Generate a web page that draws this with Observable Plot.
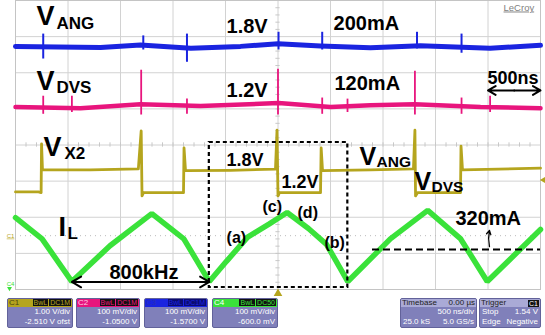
<!DOCTYPE html>
<html><head><meta charset="utf-8">
<script src="https://cdn.jsdelivr.net/npm/d3@7"></script>
<script src="https://cdn.jsdelivr.net/npm/@observablehq/plot@0.6"></script>
<style>
body{margin:0;background:#fff;width:545px;height:335px;overflow:hidden;}
#chart svg{display:block}
.pn{position:absolute;top:1px;height:30px;box-sizing:border-box;background:#8080ba;border:1px solid #62629a;border-radius:2px;color:#fff;font:8px 'Liberation Sans',Arial,sans-serif;overflow:hidden}
.hd{height:8px;display:flex;align-items:center;justify-content:space-between;padding:0 1px;line-height:8px;white-space:nowrap}
.tag{background:#111;padding:0 1px;margin-left:1px;font-size:7px;line-height:7px;display:inline-block}
.ln{height:10px;line-height:10px;display:flex;justify-content:space-between;padding:0 2px;white-space:nowrap}
</style></head><body>
<div id="chart"></div>
<div id="panels" style="position:relative;width:545px;height:38px"></div>
<script>
// ---- channel settings (from the scope panels)
const chNames = ["C1","C2","C3","C4"];
const chColors = ["#b5a51e","#e8157d","#1a24e0","#3ae23a"];
const chScale = [1.0, 0.1, 0.1, 0.1];        // V/div
const chOffset = [-2.51, -1.05, -1.57, -0.6]; // V offset
const chVdiv = ["1.00 V/div","100 mV/div","100 mV/div","100 mV/div"];
const chOfs = ["-2.510 V ofst","-1.0500 V","-1.5700 V","-600.0 mV"];
const chCoupling = ["DC1M","DC1M","DC1M","DC50"];
const timebase = ["Timebase","0.00 µs","500 ns/div","25.0 kS","5.0 GS/s"];
const trigger = ["Trigger","C1","Stop","1.54 V","Edge","Negative"];
const triggerLevel = 1.54;

// ---- C1: V_X2 (time in µs, volts)
const tX2 = [-2.5,-2.281,-2.256,-2.252,-2.243,-1.786,-1.33,-1.303,-1.295,-1.281,-0.90,-0.895,-0.881,-0.452,-0.024,-0.0095,0,0.014,0.405,0.411,0.424,0.881,1.29,1.304,1.31,1.329,1.738,1.743,1.757,2.5];
const vX2 = [1.21,1.21,1.19,2.54,1.82,1.82,1.85,2.90,1.10,1.19,1.19,2.43,1.80,1.81,1.84,2.92,1.10,1.19,1.19,2.43,1.80,1.82,1.85,2.92,1.10,1.19,1.19,2.48,1.82,1.87];
// ---- C2: V_DVS
const tDVS = [-2.5,-1.881,-1.31,-0.738,0.005,0.5,0.88,1.3,1.929,2.5];
const vDVS = [1.155,1.152,1.163,1.158,1.166,1.155,1.160,1.163,1.155,1.152];
const tDVSspk = [-2.236,-1.963,-1.303,-0.867,0,0.421,0.662,1.304,1.748,2.02];
const loDVSspk = [1.135,1.14,1.133,1.135,1.133,1.135,1.14,1.133,1.135,1.14];
const hiDVSspk = [1.185,1.185,1.257,1.177,1.260,1.18,1.177,1.254,1.18,1.185];
// ---- C3: V_ANG
const tANG = [-2.5,-1.69,-1.31,-0.83,-0.357,0,0.405,0.88,1.357,2.02,2.5];
const vANG = [1.843,1.840,1.847,1.838,1.843,1.850,1.844,1.839,1.845,1.838,1.846];
const tANGspk = [-2.236,-1.283,-0.867,0.005,0.421,1.324,1.748];
const loANGspk = [1.808,1.833,1.799,1.833,1.833,1.836,1.824];
const hiANGspk = [1.877,1.872,1.877,1.882,1.882,1.882,1.877];
// ---- C4: I_L
const tIL = [-2.5,-2.247,-1.963,-1.6,-1.202,-0.897,-0.654,-0.491,-0.289,-0.086,0.087,0.29,0.462,0.665,1.07,1.426,1.74,1.993,2.5];
const vIL = [0.399,0.340,0.222,0.321,0.410,0.340,0.222,0.278,0.345,0.381,0.413,0.369,0.325,0.222,0.340,0.419,0.340,0.222,0.366];

// ---- annotations (t in µs, y in divisions)
const labels = [
  {s:"V",t:-2.300,y:3.322,size:27},{s:"ANG",t:-2.110,y:3.211,size:17},
  {s:"1.8V",t:-0.490,y:3.114,size:20},{s:"200mA",t:0.529,y:3.170,size:20},
  {s:"V",t:-2.300,y:1.509,size:27},{s:"DVS",t:-2.110,y:1.426,size:17},
  {s:"1.2V",t:-0.490,y:1.315,size:20},{s:"120mA",t:0.538,y:1.509,size:20},
  {s:"500ns",t:1.995,y:1.702,size:18},
  {s:"V",t:-2.233,y:-0.318,size:27},{s:"X2",t:-2.033,y:-0.388,size:17},
  {s:"1.8V",t:-0.490,y:-0.595,size:18},{s:"1.2V",t:0.033,y:-1.204,size:18},
  {s:"V",t:0.776,y:-0.540,size:25},{s:"ANG",t:0.938,y:-0.609,size:15.5},
  {s:"V",t:1.300,y:-1.232,size:25},{s:"DVS",t:1.462,y:-1.301,size:15.5},
  {s:"I",t:-2.090,y:-2.519,size:27},{s:"L",t:-2.005,y:-2.602,size:17},
  {s:"800kHz",t:-1.605,y:-3.723,size:20},
  {s:"(a)",t:-0.490,y:-2.699,size:16},{s:"(c)",t:-0.148,y:-1.841,size:16},
  {s:"(d)",t:0.186,y:-2.007,size:16},{s:"(b)",t:0.443,y:-2.865,size:16},
  {s:"320mA",t:1.690,y:-2.201,size:20}
];
const dashBox = [{t1:-0.654,t2:0.665,y1:0.069,y2:-3.945}];
const dashLine = [{t1:0.9,t2:2.5,y:-2.893}];
const dblArrows = [{t1:-1.963,t2:-0.654,y:-3.792},{t1:2.0,t2:2.5,y:1.509}];

const div = (ch, v) => (v + chOffset[ch]) / chScale[ch];
const series = (ch, T, V) => T.map((t,i)=>({t, y: div(ch, V[i])}));
const spikes = (ch, T, L, H) => T.map((t,i)=>({t, y1: div(ch,L[i]), y2: div(ch,H[i])}));

const X2 = series(0,tX2,vX2), DVS = series(1,tDVS,vDVS), ANG = series(2,tANG,vANG), IL = series(3,tIL,vIL);
const DVSs = spikes(1,tDVSspk,loDVSspk,hiDVSspk), ANGs = spikes(2,tANGspk,loANGspk,hiANGspk);

const arrowSegs = dblArrows.flatMap(a=>{const m=(a.t1+a.t2)/2; return [{x1:m,x2:a.t1,y:a.y},{x1:m,x2:a.t2,y:a.y}];});
const minorX = d3.range(-2.5, 2.5001, 0.1);
const minorY = d3.range(-4, 4.001, 0.2);

const plot = Plot.plot({
  width: 545, height: 297,
  marginLeft: 15, marginRight: 5, marginTop: 0, marginBottom: 8,
  x: {domain: [-2.5, 2.5], axis: null},
  y: {domain: [-4, 4], axis: null},
  style: {background: "white", overflow: "visible", fontFamily: "'Liberation Sans', Arial, sans-serif"},
  marks: [
    Plot.ruleX(d3.range(-2.5, 2.5001, 0.5), {stroke: "#d2d2d2", strokeWidth: 1}),
    Plot.ruleY(d3.range(-4, 4.001, 1), {stroke: "#d2d2d2", strokeWidth: 1}),
    Plot.ruleX(minorX, {y1: -0.06, y2: 0.06, stroke: "#c8c8c8"}),
    Plot.ruleY(minorY, {x1: -0.02, x2: 0.02, stroke: "#c8c8c8"}),
    Plot.ruleY([div(0, 0)], {stroke: "#bbbbbb", strokeDasharray: "1,4"}),
    Plot.frame({stroke: "#c4c4c4"}),
    Plot.line(ANG, {x: "t", y: "y", stroke: chColors[2], strokeWidth: 5}),
    Plot.ruleX(ANGs, {x: "t", y1: "y1", y2: "y2", stroke: chColors[2], strokeWidth: 2}),
    Plot.line(DVS, {x: "t", y: "y", stroke: chColors[1], strokeWidth: 4.5}),
    Plot.ruleX(DVSs, {x: "t", y1: "y1", y2: "y2", stroke: chColors[1], strokeWidth: 1.8}),
    Plot.line(X2, {x: "t", y: "y", stroke: chColors[0], strokeWidth: 2.8}),
    Plot.line(IL, {x: "t", y: "y", stroke: chColors[3], strokeWidth: 5.5, strokeLinejoin: "miter"}),
    Plot.rect(dashBox, {x1: "t1", x2: "t2", y1: "y1", y2: "y2", fill: "none", stroke: "black", strokeWidth: 2.2, strokeDasharray: "4,3"}),
    Plot.ruleY(dashLine, {x1: "t1", x2: "t2", y: "y", stroke: "black", strokeWidth: 2, strokeDasharray: "7,4"}),
    Plot.arrow(arrowSegs, {x1: "x1", x2: "x2", y1: "y", y2: "y", stroke: "black", strokeWidth: 2, headLength: 8}),
    Plot.arrow([{x: 2.014, y1: -2.81, y2: -2.367}], {x1: "x", x2: "x", y1: "y1", y2: "y2", stroke: "black", strokeWidth: 1.3, headLength: 5, bend: 12}),
    Plot.text(labels, {x: "t", y: "y", text: "s", fontSize: "size", textAnchor: "start", lineAnchor: "bottom", fontWeight: "bold", fill: "black"}),
    Plot.text([{t: 2.148, y: 3.723, s: "LeCroy"}], {x: "t", y: "y", text: "s", fontSize: 9.5, textAnchor: "start", lineAnchor: "bottom", fill: "#808080"}),
    Plot.dot([{t: 2.5, y: div(0, triggerLevel)}], {x: "t", y: "y", symbol: "triangle", rotate: -90, r: 3, fill: chColors[0], dx: 4}),
    Plot.dot([{t: 0, y: -4}], {x: "t", y: "y", symbol: "triangle", r: 3.2, fill: chColors[0], dy: 4}),
    Plot.text([{t: -2.5, y: div(0, 0), s: "C1"}], {x: "t", y: "y", text: "s", dx: -5, fontSize: 6, fill: chColors[0]}),
    Plot.text([{t: -2.5, y: -3.85, s: "C4"}], {x: "t", y: "y", text: "s", dx: -5, fontSize: 6, fill: chColors[3]}),
    Plot.dot([{t: -2.5, y: -3.97}], {x: "t", y: "y", symbol: "triangle", rotate: 180, r: 1.8, fill: chColors[3], dx: -6})
  ]
});
document.getElementById("chart").appendChild(plot);
d3.select(plot).selectAll("text").filter(function(){return this.textContent==="LeCroy"||this.textContent==="C1";}).attr("text-decoration","underline");

// ---- panels
const P = document.getElementById("panels");
const pLeft = [7,76,144,212], pW = [66,64,64,66];
const hdrFg = ["#4a4410","#ffd0e6","#2a30b0","#ffffff"];
const tagBg = ["#111","#111","#0c0c70","#111"];
chNames.forEach((n,i)=>{
  const d = document.createElement("div");
  d.className = "pn"; d.style.left = pLeft[i]+"px"; d.style.width = pW[i]+"px";
  d.innerHTML = `<div class="hd" style="background:${chColors[i]};color:${hdrFg[i]}"><span>${n}</span><span><span class="tag" style="background:${tagBg[i]};color:${chColors[i]}">BwL</span><span class="tag" style="background:${tagBg[i]};color:${chColors[i]}">${chCoupling[i]}</span></span></div>`+
    `<div class="ln"><span></span><span>${chVdiv[i]}</span></div><div class="ln"><span></span><span>${chOfs[i]}</span></div>`;
  P.appendChild(d);
});
const tb = document.createElement("div");
tb.className="pn"; tb.style.left="400px"; tb.style.width="77px";
tb.innerHTML = `<div class="hd" style="background:#aaaad6;color:#222"><span>${timebase[0]}</span><span>${timebase[1]}</span></div><div class="ln"><span></span><span>${timebase[2]}</span></div><div class="ln"><span>${timebase[3]}</span><span>${timebase[4]}</span></div>`;
P.appendChild(tb);
const tr = document.createElement("div");
tr.className="pn"; tr.style.left="479px"; tr.style.width="62px";
tr.innerHTML = `<div class="hd" style="background:#aaaad6;color:#222"><span>${trigger[0]}</span><span class="tag" style="color:#fff">${trigger[1]}</span></div><div class="ln"><span>${trigger[2]}</span><span>${trigger[3]}</span></div><div class="ln"><span>${trigger[4]}</span><span>${trigger[5]}</span></div>`;
P.appendChild(tr);
</script></body></html>
